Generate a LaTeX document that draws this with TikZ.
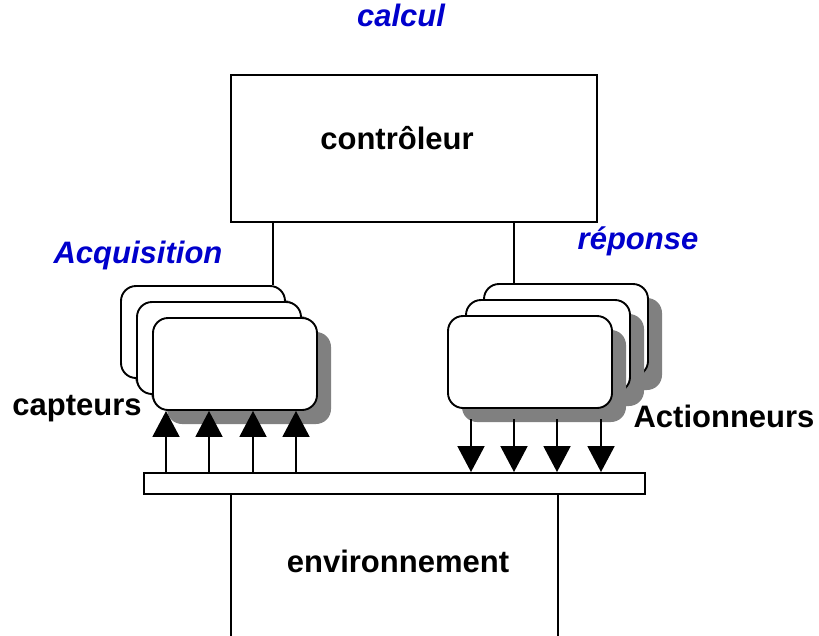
\documentclass[tikz,border=0pt]{standalone}
\usepackage{fontspec}
\setmainfont{Liberation Sans}
\usetikzlibrary{arrows.meta,shadows}
\definecolor{bleu}{RGB}{0,0,204}

\tikzset{
  bloc/.style={draw, line width=1.9pt, fill=white, inner sep=0pt},
  carte/.style={bloc, rounded corners=15pt, minimum width=164pt, minimum height=92pt,
    drop shadow={shadow xshift=14pt, shadow yshift=-14pt, fill=black!50, opacity=1}},
  lbl/.style={font=\fontsize{31}{36}\selectfont\bfseries, anchor=base, inner sep=0pt},
  titre/.style={lbl, font=\fontsize{31}{36}\selectfont\bfseries\itshape, text=bleu},
  fil/.style={line width=1.9pt},
  fleche/.style={fil, -{Triangle[length=26pt,width=27pt]}},
}

\begin{document}
\begin{tikzpicture}[x=1pt, y=-1pt]
		%%%%% START %%%%%
		\clip (0,0) rectangle (819,635);
		
		\node[bloc, minimum width=366pt, minimum height=147pt] (ctrl) at (414,148.5) {};
		\node[lbl] (tctrl) at (397,149) {contrôleur};
		\node[titre] (calcul) at (401,26) {calcul};
		
		% cartes d'acquisition
		\node[carte] (cap1) at (203,332) {};
		\node[carte] (cap2) at (219,348) {};
		\node[carte] (cap3) at (235,364) {};
		\node[titre] (acq) at (138,263) {Acquisition};
		\node[lbl] (capteurs) at (77,415) {capteurs};
		
		% cartes de reponse
		\node[carte] (act1) at (566,330) {};
		\node[carte] (act2) at (548,346) {};
		\node[carte] (act3) at (530,362) {};
		\node[titre] (rep) at (638,249) {réponse};
		\node[lbl] (actionneurs) at (724,427) {Actionneurs};
		
		\coordinate (pg) at (273,0);
		\coordinate (pd) at (514,0);
		\draw[fil] (pg |- ctrl.south) -- (pg |- cap1.north);
		\draw[fil] (pd |- ctrl.south) -- (pd |- act1.north);
		
		% bus et environnement
		\node[bloc, minimum width=501pt, minimum height=21pt] (bus) at (394.5,483.5) {};
		\node[bloc, minimum width=327pt, minimum height=170pt] (env) at (394.5,579) {};
		\node[lbl] (tenv) at (398,572) {environnement};
		
		\foreach \x [count=\i] in {166,209,253,296}
			\coordinate (u\i) at (\x,0);
		\foreach \i in {1,...,4}
			\draw[fleche] (u\i |- bus.north) -- (u\i |- cap3.south);
		
		\foreach \x [count=\i] in {471,514,557,601}
			\coordinate (d\i) at (\x,419);
		\foreach \i in {1,...,4}
			\draw[fleche] (d\i) -- (d\i |- bus.north);
		%%%%% END %%%%%
\end{tikzpicture}
\end{document}
